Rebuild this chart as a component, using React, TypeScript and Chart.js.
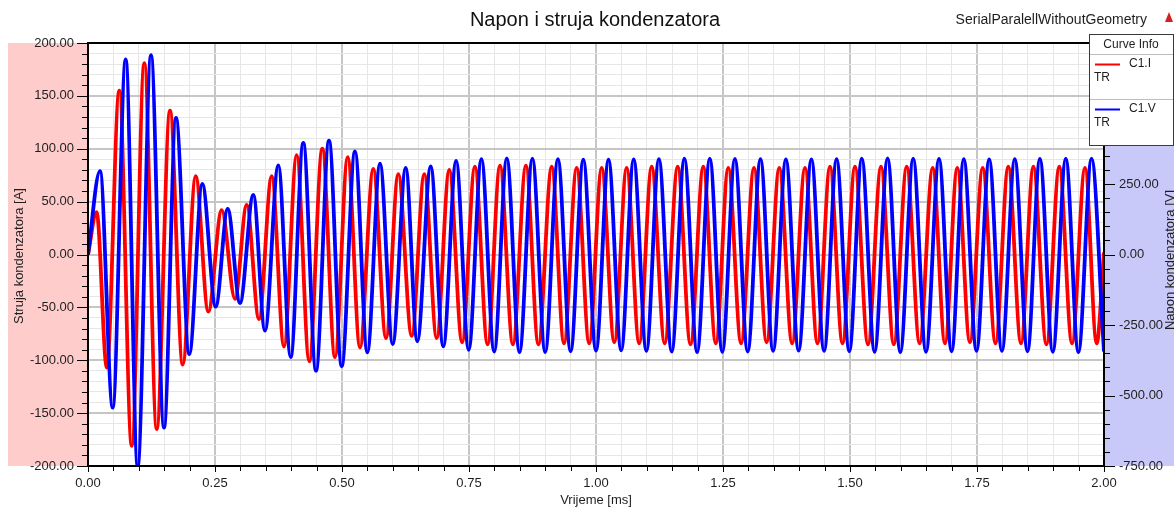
import React, { useEffect, useRef } from "react";
import { Chart, registerables } from "chart.js";

Chart.register(...registerables);

// Time of each extremum (ms) and capacitor current (A)
const currentTimes = [
  0, 0.017, 0.037, 0.0616, 0.086, 0.1108, 0.1352, 0.1614, 0.1864, 0.212,
  0.2368, 0.2632, 0.2894, 0.3124, 0.3366, 0.3616, 0.3858, 0.4108, 0.4356, 0.4612,
  0.4862, 0.5112, 0.5354, 0.5616, 0.5866, 0.6108, 0.6372, 0.662, 0.6864, 0.7112,
  0.7364, 0.7616, 0.7866, 0.811, 0.8364, 0.862, 0.8866, 0.9128, 0.937, 0.962,
  0.9866, 1.0112, 1.036, 1.0604, 1.085, 1.1096, 1.1352, 1.1608, 1.186, 1.2112,
  1.2358, 1.2604, 1.2856, 1.311, 1.3358, 1.3608, 1.386, 1.4114, 1.436, 1.4606,
  1.4852, 1.5098, 1.5354, 1.561, 1.5862, 1.6116, 1.637, 1.6628, 1.687, 1.7112,
  1.736, 1.7612, 1.7864, 1.8116, 1.8366, 1.861, 1.8866, 1.912, 1.937, 1.9626,
  1.9856, 2.0,
];
const currentValues = [
  0, 40, -107, 155, -181, 181, -165, 136, -104, 74,
  -54, 42, -42, 47, -61, 74, -87, 94, -101, 100,
  -97, 92, -88, 81, -79, 76, -77, 76, -79, 80,
  -83, 83, -85, 84, -85, 84, -85, 83, -84, 82,
  -84, 82, -83, 82, -84, 83, -84, 83, -85, 83,
  -84, 82, -84, 82, -83, 82, -84, 82, -84, 83,
  -84, 83, -85, 83, -85, 83, -84, 82, -84, 82,
  -83, 82, -84, 83, -84, 83, -85, 83, -84, 82,
  -84, 2,
];

// Time of each extremum (ms) and capacitor voltage (V)
const voltageTimes = [
  0, 0.0236, 0.0486, 0.0742, 0.0978, 0.124, 0.1496, 0.1732, 0.1994, 0.225,
  0.2514, 0.275, 0.2992, 0.3254, 0.3484, 0.3746, 0.399, 0.4238, 0.4488, 0.4744,
  0.4994, 0.5256, 0.5498, 0.5748, 0.5998, 0.6254, 0.6482, 0.6746, 0.6994, 0.7246,
  0.7494, 0.7744, 0.7996, 0.8244, 0.8494, 0.8748, 0.9, 0.925, 0.95, 0.975,
  1.0, 1.0246, 1.0496, 1.0742, 1.0992, 1.1238, 1.149, 1.174, 1.199, 1.224,
  1.2486, 1.2734, 1.2986, 1.3238, 1.3486, 1.3738, 1.3988, 1.424, 1.449, 1.4736,
  1.4986, 1.5232, 1.5484, 1.574, 1.599, 1.6244, 1.6496, 1.6752, 1.7, 1.724,
  1.749, 1.774, 1.799, 1.8244, 1.8494, 1.8738, 1.8992, 1.9248, 1.9496, 1.9754,
  2.0,
];
const voltageValues = [
  0, 296, -543, 692, -752, 707, -614, 484, -353, 250,
  -185, 162, -172, 211, -270, 316, -364, 396, -412, 404,
  -396, 366, -347, 322, -318, 307, -308, 312, -326, 332,
  -338, 338, -344, 341, -346, 340, -346, 338, -343, 336,
  -341, 336, -340, 337, -342, 338, -344, 340, -346, 340,
  -345, 339, -344, 338, -342, 337, -341, 337, -342, 338,
  -343, 340, -345, 341, -346, 340, -345, 339, -343, 338,
  -342, 337, -342, 338, -343, 339, -345, 340, -346, 340,
  -344,
];

const chartTitle = "Napon i struja kondenzatora";
const designName = "SerialParalellWithoutGeometry";
const xTitle = "Vrijeme [ms]";
const yLeftTitle = "Struja kondenzatora [A]";
const yRightTitle = "Napon kondenzatora [V]";
const legendHeader = "Curve Info";
const seriesNames = ["C1.I", "C1.V"];
const seriesSub = "TR";

const FONT = "'Liberation Sans', Arial, sans-serif";
const MAJOR_GRID = "#c6c6c6";
const MINOR_GRID = "#e6e6e6";
const TEXT = "#1e1e1e";

const decorPlugin = {
  id: "decor",
  beforeDraw(chart: any) {
    const { ctx, chartArea: a } = chart;
    ctx.save();
    ctx.fillStyle = "#ffffff";
    ctx.fillRect(0, 0, chart.width, chart.height);
    ctx.fillStyle = "#ffcccc";
    ctx.fillRect(8, a.top, a.left - 8, a.bottom - a.top);
    ctx.fillStyle = "#c9c9f9";
    ctx.fillRect(a.right, a.top, chart.width - a.right, a.bottom - a.top);
    ctx.restore();
  },
  afterDraw(chart: any) {
    const { ctx, chartArea: a } = chart;
    const sx = chart.scales.x;
    const sy = chart.scales.y;
    const sy1 = chart.scales.y1;
    ctx.save();

    // tick marks
    ctx.strokeStyle = "#000";
    ctx.lineWidth = 1;
    ctx.beginPath();
    sy.ticks.forEach((t: any) => {
      const p = Math.round(sy.getPixelForValue(t.value)) + 0.5;
      const major = Math.round(t.value) % 50 === 0;
      ctx.moveTo(a.left - (major ? 11 : 6), p);
      ctx.lineTo(a.left, p);
    });
    sy1.ticks.forEach((t: any) => {
      const p = Math.round(sy1.getPixelForValue(t.value)) + 0.5;
      const major = Math.round(t.value) % 250 === 0;
      ctx.moveTo(a.right, p);
      ctx.lineTo(a.right + (major ? 11 : 6), p);
    });
    sx.ticks.forEach((t: any) => {
      const p = Math.round(sx.getPixelForValue(t.value)) + 0.5;
      const major = Math.round(t.value * 100) % 25 === 0;
      ctx.moveTo(p, a.bottom);
      ctx.lineTo(p, a.bottom + (major ? 6 : 5));
    });
    ctx.stroke();

    // frame
    ctx.lineWidth = 2;
    ctx.strokeRect(a.left, a.top, a.right - a.left, a.bottom - a.top);

    // titles
    ctx.fillStyle = "#111";
    ctx.textBaseline = "middle";
    ctx.textAlign = "center";
    ctx.font = `20px ${FONT}`;
    ctx.fillText(chartTitle, 595, 20);

    ctx.font = `14px ${FONT}`;
    ctx.textAlign = "right";
    ctx.fillStyle = TEXT;
    ctx.fillText(designName, 1147, 20);

    // small logo mark
    ctx.fillStyle = "#d42020";
    ctx.beginPath();
    ctx.moveTo(1169, 12);
    ctx.lineTo(1173, 22);
    ctx.lineTo(1165, 22);
    ctx.closePath();
    ctx.fill();

    ctx.fillStyle = TEXT;
    ctx.textAlign = "center";
    ctx.font = `13px ${FONT}`;
    ctx.fillText(xTitle, 596, 500);

    ctx.save();
    ctx.translate(19, 256);
    ctx.rotate(-Math.PI / 2);
    ctx.fillText(yLeftTitle, 0, 0);
    ctx.restore();

    ctx.save();
    ctx.translate(1170, 260);
    ctx.rotate(-Math.PI / 2);
    ctx.fillText(yRightTitle, 0, 0);
    ctx.restore();

    // legend box
    ctx.fillStyle = "#ffffff";
    ctx.fillRect(1089, 34, 85, 112);
    ctx.strokeStyle = "#3a3a3a";
    ctx.lineWidth = 1;
    ctx.strokeRect(1089.5, 34.5, 84, 111);
    ctx.strokeStyle = "#bdbdbd";
    ctx.beginPath();
    ctx.moveTo(1090, 54.5);
    ctx.lineTo(1173, 54.5);
    ctx.moveTo(1090, 99.5);
    ctx.lineTo(1173, 99.5);
    ctx.stroke();

    ctx.font = `12px ${FONT}`;
    ctx.fillStyle = TEXT;
    ctx.textAlign = "center";
    ctx.fillText(legendHeader, 1131, 45);

    const entries = [
      { y: 64, color: "#ff0000", name: seriesNames[0] },
      { y: 109, color: "#0000ff", name: seriesNames[1] },
    ];
    entries.forEach((e) => {
      ctx.strokeStyle = e.color;
      ctx.lineWidth = 2;
      ctx.beginPath();
      ctx.moveTo(1095, e.y + 0.5);
      ctx.lineTo(1120, e.y + 0.5);
      ctx.stroke();
      ctx.fillStyle = TEXT;
      ctx.textAlign = "left";
      ctx.fillText(e.name, 1129, e.y);
      ctx.fillText(seriesSub, 1094, e.y + 14);
    });

    ctx.restore();
  },
};

export default function App() {
  const canvasRef = useRef<HTMLCanvasElement | null>(null);

  useEffect(() => {
    if (!canvasRef.current) return;
    const currentPts = currentTimes.map((t, i) => ({ x: t, y: currentValues[i] }));
    const voltagePts = voltageTimes.map((t, i) => ({ x: t, y: voltageValues[i] }));

    const tickFont = { family: FONT, size: 13 };

    const chart = new Chart(canvasRef.current, {
      type: "line",
      data: {
        datasets: [
          {
            label: seriesNames[1],
            data: voltagePts,
            yAxisID: "y1",
            borderColor: "#0000ff",
            borderWidth: 3.8,
            pointRadius: 0,
            cubicInterpolationMode: "monotone",
            order: 0,
          },
          {
            label: seriesNames[0],
            data: currentPts,
            yAxisID: "y",
            borderColor: "#ff0000",
            borderWidth: 3.8,
            pointRadius: 0,
            cubicInterpolationMode: "monotone",
            order: 1,
          },
        ],
      },
      options: {
        responsive: false,
        animation: false,
        events: [],
        layout: { padding: { top: 43, left: 0, right: 0, bottom: 0 } },
        plugins: {
          legend: { display: false },
          title: { display: false },
          tooltip: { enabled: false },
        },
        scales: {
          x: {
            type: "linear",
            min: 0,
            max: 2,
            afterFit: (s: any) => {
              s.height = 43;
            },
            border: { display: false },
            grid: {
              drawTicks: false,
              color: (c: any) =>
                c.tick && Math.round(c.tick.value * 100) % 25 === 0 ? MAJOR_GRID : MINOR_GRID,
              lineWidth: (c: any) =>
                c.tick && Math.round(c.tick.value * 100) % 25 === 0 ? 2 : 1,
            },
            ticks: {
              stepSize: 0.05,
              autoSkip: false,
              maxRotation: 0,
              padding: 10,
              color: TEXT,
              font: tickFont,
              callback: (v: any) => {
                const n = Math.round(Number(v) * 100);
                return n % 25 === 0 ? (n / 100).toFixed(2) : "";
              },
            },
          },
          y: {
            type: "linear",
            position: "left",
            min: -200,
            max: 200,
            afterFit: (s: any) => {
              s.width = 88;
            },
            border: { display: false },
            grid: {
              drawTicks: false,
              color: (c: any) =>
                c.tick && Math.round(c.tick.value) % 50 === 0 ? MAJOR_GRID : MINOR_GRID,
              lineWidth: (c: any) =>
                c.tick && Math.round(c.tick.value) % 50 === 0 ? 2 : 1,
            },
            ticks: {
              stepSize: 10,
              autoSkip: false,
              padding: 14,
              color: TEXT,
              font: tickFont,
              callback: (v: any) => {
                const n = Math.round(Number(v));
                return n % 50 === 0 ? n.toFixed(2) : "";
              },
            },
          },
          y1: {
            type: "linear",
            position: "right",
            min: -750,
            max: 750,
            afterFit: (s: any) => {
              s.width = 70;
            },
            border: { display: false },
            grid: { drawTicks: false, drawOnChartArea: false },
            ticks: {
              stepSize: 50,
              autoSkip: false,
              padding: 15,
              color: TEXT,
              font: tickFont,
              callback: (v: any) => {
                const n = Math.round(Number(v));
                return n % 250 === 0 ? n.toFixed(2) : "";
              },
            },
          },
        },
      },
      plugins: [decorPlugin],
    } as any);

    return () => chart.destroy();
  }, []);

  return (
    <div style={{ position: "absolute", left: 0, top: 0, width: 1174, height: 509 }}>
      <canvas
        ref={canvasRef}
        width={1174}
        height={509}
        style={{ display: "block", width: 1174, height: 509 }}
      />
    </div>
  );
}
